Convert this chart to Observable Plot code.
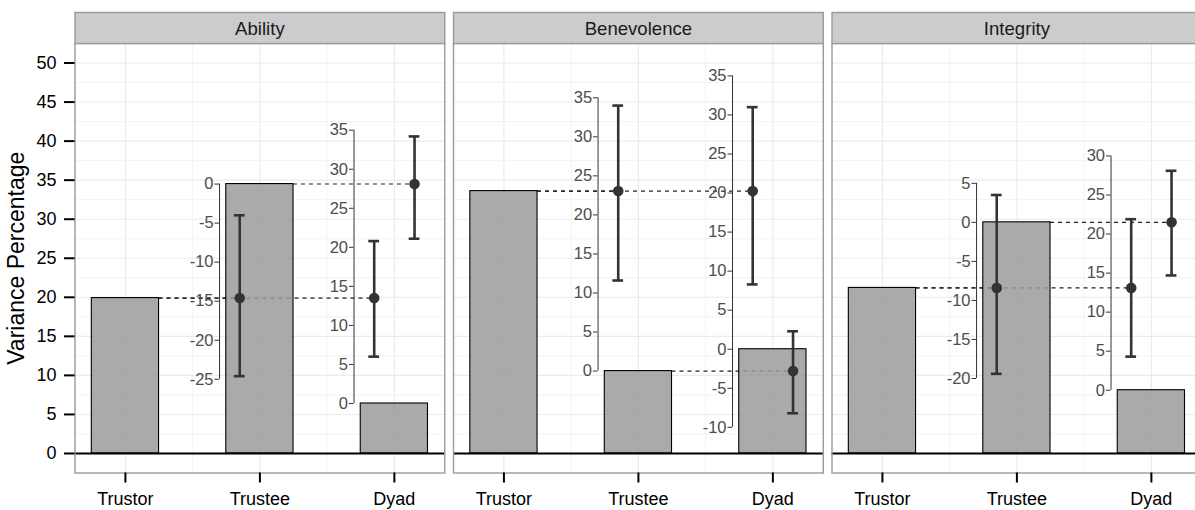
<!DOCTYPE html>
<html><head><meta charset="utf-8">
<script src="https://cdn.jsdelivr.net/npm/d3@7"></script>
<script src="https://cdn.jsdelivr.net/npm/@observablehq/plot@0.6"></script>
<style>
html,body{margin:0;padding:0;background:#fff;overflow:hidden;}
#chart svg{display:block;}
</style></head><body><div id="chart"></div>
<script>
// ---- data ----
const facetNames = ["Ability", "Benevolence", "Integrity"];
const roleNames = ["Trustor", "Trustee", "Dyad"];
const roleTicks = [1, 2, 3];
const yTicks = [0, 5, 10, 15, 20, 25, 30, 35, 40, 45, 50];
const yMinorGrid = [2.5, 7.5, 12.5, 17.5, 22.5, 27.5, 32.5, 37.5, 42.5, 47.5];
const xMinorGrid = [1.5, 2.5];
const yLabel = "Variance Percentage";

// bar values (variance %) per facet
const trustorPct = [19.9, 33.6, 21.2];
const trusteePct = [34.5, 10.55, 29.6];
const dyadPct = [6.4, 13.35, 8.1];

// contrasts (difference, 95% interval) per facet
const trustorMinusTrusteeEst = [-14.6, 23.05, -8.4];
const trustorMinusTrusteeLo = [-24.6, 11.6, -19.4];
const trustorMinusTrusteeHi = [-4.0, 34.0, 3.5];
const trustorMinusDyadEst = [13.5, 20.25, 13.1];
const trustorMinusDyadLo = [6.0, 8.3, 4.3];
const trustorMinusDyadHi = [20.8, 31.0, 21.9];
const trusteeMinusDyadEst = [28.1, -2.8, 21.5];
const trusteeMinusDyadLo = [21.1, -8.2, 14.7];
const trusteeMinusDyadHi = [34.2, 2.3, 28.1];

// inset (difference) axis tick labels
const trusteeInsetTicks = [[-25, -20, -15, -10, -5, 0], [0, 5, 10, 15, 20, 25, 30, 35], [-20, -15, -10, -5, 0, 5]];
const dyadInsetTicks = [[0, 5, 10, 15, 20, 25, 30, 35], [-10, -5, 0, 5, 10, 15, 20, 25, 30, 35], [0, 5, 10, 15, 20, 25, 30]];

// ---- tables built from the arrays ----
const barValues = [trustorPct, trusteePct, dyadPct];
const bars = facetNames.flatMap((f, i) => barValues.map((arr, j) => ({facet: f, pos: j + 1, value: arr[i]})));

const contrastDefs = [
  {est: trustorMinusTrusteeEst, lo: trustorMinusTrusteeLo, hi: trustorMinusTrusteeHi, on: 2, from: 1, off: -0.15},
  {est: trustorMinusDyadEst, lo: trustorMinusDyadLo, hi: trustorMinusDyadHi, on: 3, from: 1, off: -0.15},
  {est: trusteeMinusDyadEst, lo: trusteeMinusDyadLo, hi: trusteeMinusDyadHi, on: 3, from: 2, off: 0.15}
];
const contrasts = facetNames.flatMap((f, i) => contrastDefs.map(c => {
  const base = barValues[c.on - 1][i];
  return {facet: f, x: c.on + c.off, xFrom: c.from + 0.25, base,
          y: base + c.est[i], y1: base + c.lo[i], y2: base + c.hi[i]};
}));

const insetDefs = [{on: 2, ticks: trusteeInsetTicks}, {on: 3, ticks: dyadInsetTicks}];
const insetAxes = facetNames.flatMap((f, i) => insetDefs.map(a => {
  const base = barValues[a.on - 1][i];
  const t = a.ticks[i];
  return {facet: f, x: a.on - 0.3, base, ticks: t, y1: base + d3.min(t), y2: base + d3.max(t)};
}));
const insetTicks = insetAxes.flatMap(a => a.ticks.map(t => ({facet: a.facet, x: a.x, y: a.base + t, label: String(t)})));

const tickLen = 0.034, capHalf = 0.04;
const panelH = 510 - 43 - 37.5;
const FONT = "'Liberation Sans', Arial, sans-serif";

const chart = Plot.plot({
  width: 1195, height: 510,
  marginLeft: 74.5, marginRight: -6.3, marginTop: 43, marginBottom: 37.5,
  style: {fontFamily: FONT, background: "#fff", overflow: "hidden"},
  fx: {domain: facetNames, paddingInner: 0.023, paddingOuter: 0, round: false, axis: null, label: null},
  x: {domain: [0.625, 3.375]},
  y: {domain: [-2.5, 52.5]},
  marks: [
    // grid
    Plot.ruleY(yMinorGrid, {stroke: "#f3f3f3", strokeWidth: 1}),
    Plot.ruleX(xMinorGrid, {stroke: "#f3f3f3", strokeWidth: 1}),
    Plot.ruleY(yTicks, {stroke: "#ebebeb", strokeWidth: 1.1}),
    Plot.ruleX(roleTicks, {stroke: "#ebebeb", strokeWidth: 1.1}),
    // dashed reference lines
    Plot.ruleY(contrasts, {fx: "facet", y: "y", x1: "xFrom", x2: "x", stroke: "#222", strokeWidth: 1.1, strokeDasharray: "4,4"}),
    // bars
    Plot.rect(bars, {fx: "facet", x1: d => d.pos - 0.25, x2: d => d.pos + 0.25, y1: 0, y2: "value",
      fill: "#999", fillOpacity: 0.835, stroke: "#000", strokeWidth: 1.1}),
    Plot.ruleY([0], {stroke: "#000", strokeWidth: 2.2}),
    // inset axes
    Plot.ruleX(insetAxes, {fx: "facet", x: "x", y1: "y1", y2: "y2", stroke: "#333", strokeWidth: 1}),
    Plot.ruleY(insetTicks, {fx: "facet", y: "y", x1: d => d.x - tickLen, x2: "x", stroke: "#333", strokeWidth: 1}),
    Plot.text(insetTicks, {fx: "facet", x: "x", y: "y", text: "label", textAnchor: "end", dx: -6, fontSize: 16.5, fill: "#4d4d4d"}),
    // error bars and points
    Plot.ruleX(contrasts, {fx: "facet", x: "x", y1: "y1", y2: "y2", stroke: "#333", strokeWidth: 2.6}),
    Plot.ruleY(contrasts, {fx: "facet", y: "y1", x1: d => d.x - capHalf, x2: d => d.x + capHalf, stroke: "#333", strokeWidth: 2.6}),
    Plot.ruleY(contrasts, {fx: "facet", y: "y2", x1: d => d.x - capHalf, x2: d => d.x + capHalf, stroke: "#333", strokeWidth: 2.6}),
    Plot.dot(contrasts, {fx: "facet", x: "x", y: "y", r: 5.3, fill: "#333", stroke: "none"}),
    // panel border and strips
    Plot.frame({stroke: "#9a9a9a", strokeWidth: 1.4}),
    Plot.frame({fill: "#cccccc", stroke: "#9a9a9a", strokeWidth: 1.4, insetTop: -31, insetBottom: panelH}),
    Plot.text(facetNames, {fx: d => d, text: d => d, frameAnchor: "top", lineAnchor: "middle", dy: -14, fontSize: 18.6, fill: "#1a1a1a"}),
    // axes
    Plot.axisY(yTicks, {anchor: "left", tickSize: 10.5, tickPadding: 8, strokeWidth: 2, stroke: "#000", fill: "#000",
      fontSize: 18, tickFormat: d => String(d), label: null}),
    Plot.axisX(roleTicks, {anchor: "bottom", tickSize: 10, tickPadding: 9, strokeWidth: 2, stroke: "#000", fill: "#000",
      fontSize: 18, tickFormat: d => roleNames[d - 1], label: null}),
    Plot.text([yLabel], {fx: () => facetNames[0], text: d => d, frameAnchor: "left", textAnchor: "middle", lineAnchor: "middle",
      dx: -58.5, rotate: -90, fontSize: 23, fill: "#000"})
  ]
});
document.getElementById("chart").append(chart);
</script>
</body></html>
